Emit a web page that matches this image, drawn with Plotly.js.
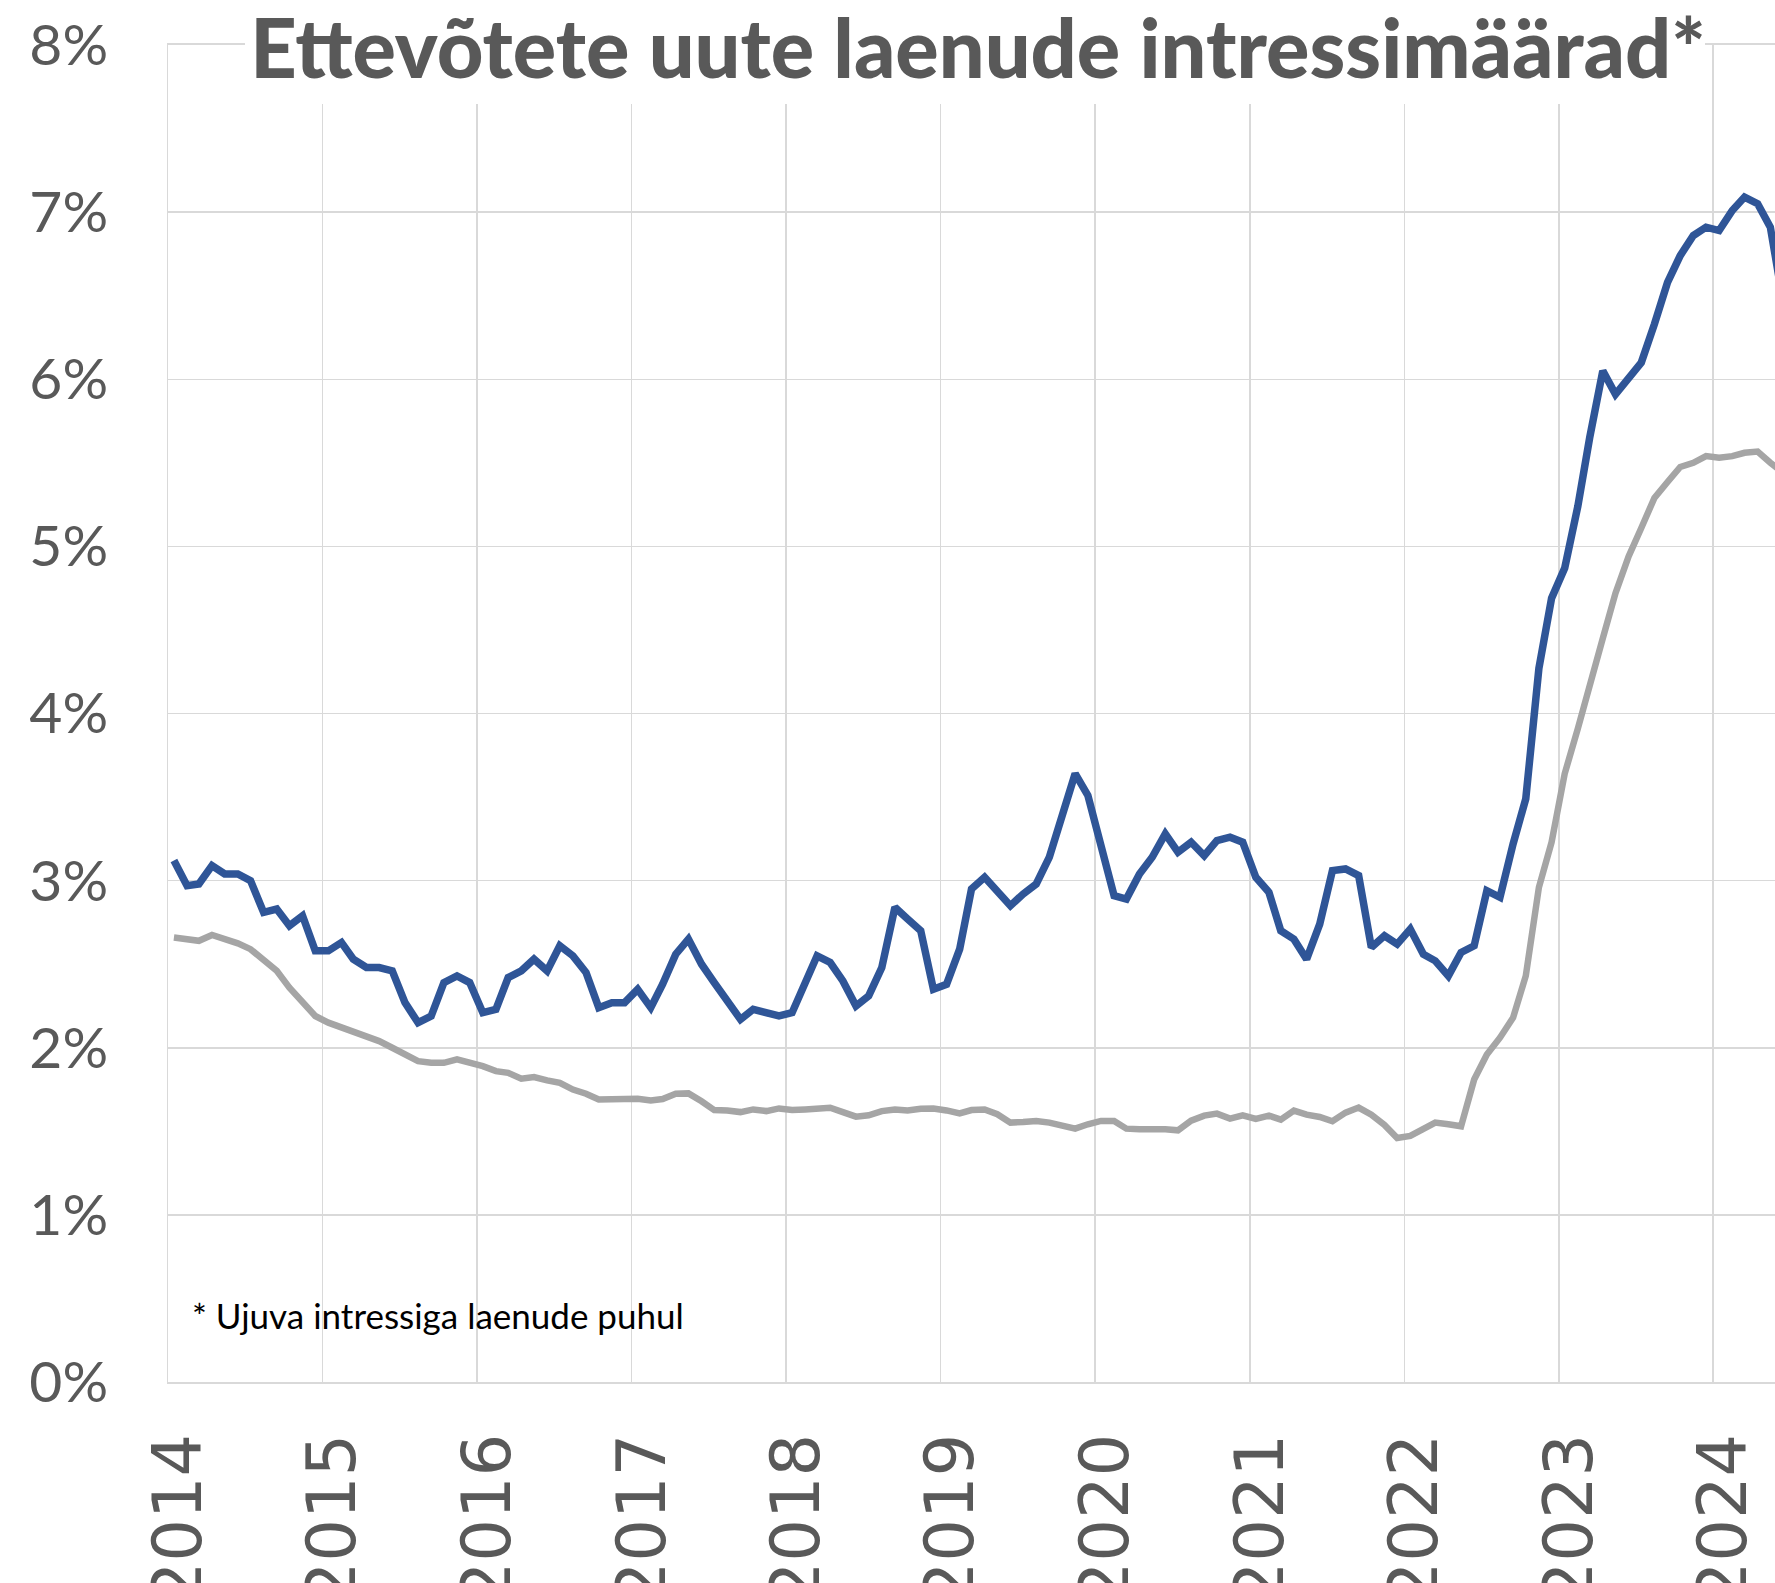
<!DOCTYPE html>
<html>
<head>
<meta charset="utf-8">
<script src="https://cdn.plot.ly/plotly-3.0.1.min.js"></script>
<style>
  html, body { margin: 0; padding: 0; background: #ffffff; }
  #chart { width: 1775px; height: 1583px; }
</style>
</head>
<body>
<div id="chart"></div>
<script>
// monthly values, Jan 2014 - Jun 2024 (%)
var eesti = [
  3.12, 2.97, 2.98, 3.09, 3.04, 3.04, 3.00, 2.81, 2.83, 2.73, 2.79, 2.58,
  2.58, 2.63, 2.53, 2.48, 2.48, 2.46, 2.27, 2.15, 2.19, 2.39, 2.43, 2.39,
  2.21, 2.23, 2.42, 2.46, 2.53, 2.46, 2.61, 2.55, 2.45, 2.24, 2.27, 2.27,
  2.35, 2.24, 2.38, 2.56, 2.65, 2.50, 2.39, 2.28, 2.17, 2.23, 2.21, 2.19,
  2.21, 2.38, 2.55, 2.51, 2.40, 2.25, 2.31, 2.48, 2.84, 2.77, 2.70, 2.35,
  2.38, 2.59, 2.95, 3.02, 2.93, 2.85, 2.92, 2.98, 3.14, 3.40, 3.64, 3.51,
  3.21, 2.91, 2.89, 3.04, 3.14, 3.28, 3.17, 3.23, 3.15, 3.24, 3.26, 3.23,
  3.02, 2.93, 2.70, 2.65, 2.53, 2.74, 3.06, 3.07, 3.03, 2.60, 2.67, 2.62,
  2.71, 2.56, 2.52, 2.43, 2.57, 2.61, 2.94, 2.90, 3.22, 3.49, 4.27, 4.69,
  4.87, 5.24, 5.65, 6.05, 5.91, 6.00, 6.10, 6.33, 6.58, 6.74, 6.86, 6.91,
  6.89, 7.01, 7.09, 7.05, 6.91, 6.45
];
var euroala = [
  2.66, 2.645, 2.64, 2.675, 2.655, 2.625, 2.59, 2.53, 2.46, 2.36, 2.28, 2.19,
  2.15, 2.12, 2.09, 2.07, 2.04, 2.00, 1.96, 1.92, 1.91, 1.91, 1.93, 1.915,
  1.89, 1.86, 1.85, 1.815, 1.825, 1.805, 1.79, 1.75, 1.725, 1.69, 1.69, 1.695,
  1.695, 1.685, 1.693, 1.725, 1.727, 1.68, 1.627, 1.625, 1.615, 1.631, 1.621, 1.637,
  1.627, 1.631, 1.635, 1.641, 1.615, 1.588, 1.596, 1.621, 1.631, 1.625, 1.635, 1.637,
  1.625, 1.607, 1.627, 1.631, 1.602, 1.552, 1.556, 1.562, 1.552, 1.532, 1.516, 1.542,
  1.562, 1.562, 1.516, 1.512, 1.514, 1.512, 1.506, 1.564, 1.594, 1.606, 1.576, 1.596,
  1.574, 1.594, 1.570, 1.624, 1.600, 1.586, 1.560, 1.612, 1.642, 1.600, 1.538, 1.460,
  1.472, 1.510, 1.552, 1.542, 1.530, 1.810, 1.960, 2.060, 2.180, 2.430, 2.960, 3.230,
  3.640, 3.910, 4.180, 4.450, 4.720, 4.940, 5.110, 5.290, 5.385, 5.475, 5.500, 5.540,
  5.530, 5.540, 5.560, 5.567, 5.500, 5.440
];
var yearTicks = ['2014', '2015', '2016', '2017', '2018', '2019', '2020', '2021', '2022', '2023', '2024'];
var yTicks = [0, 1, 2, 3, 4, 5, 6, 7, 8];

// mid-month dates for the x axis
var months = [];
for (var i = 0; i < eesti.length; i++) {
  var y = 2014 + Math.floor(i / 12);
  var m = (i % 12) + 1;
  months.push(y + '-' + (m < 10 ? '0' + m : m) + '-15');
}

var grey = '#595959';
var gridCol = '#d9d9d9';

var data = [
  {
    x: months,
    y: euroala,
    type: 'scatter',
    mode: 'lines',
    name: 'Euroala',
    line: {color: '#a5a5a5', width: 6.5}
  },
  {
    x: months,
    y: eesti,
    type: 'scatter',
    mode: 'lines',
    name: 'Eesti',
    line: {color: '#2f5597', width: 7.5}
  }
];

var mL = 168, mT = 45, mB = 201, W = 1775, H = 1583;
var plotW = W - mL, plotH = H - mT - mB;
function px(x) { return (x - mL) / plotW; }
function py(y) { return (H - mB - y) / plotH; }

var layout = {
  width: W,
  height: H,
  paper_bgcolor: '#ffffff',
  plot_bgcolor: '#ffffff',
  showlegend: false,
  margin: {l: mL, r: 0, t: mT, b: mB, pad: 0},
  title: {
    text: 'Ettevõtete uute laenude intressimäärad*',
    font: {family: 'Lato', size: 81, color: grey, weight: 900},
    xref: 'container', x: 978 / W, xanchor: 'center',
    yref: 'container', y: 1 - 50 / H, yanchor: 'middle'
  },
  xaxis: {
    type: 'date',
    range: ['2014-01-01', '2024-05-26'],
    tickvals: yearTicks.map(function (t) { return t + '-01-01'; }),
    ticktext: yearTicks,
    tickangle: -90,
    tickfont: {family: 'DejaVu Sans', size: 67, color: grey},
    ticks: '',
    ticklabelstandoff: 23,
    ticklabelshift: 11,
    showgrid: true,
    gridcolor: gridCol,
    gridwidth: 1.5,
    showline: true,
    linecolor: gridCol,
    linewidth: 2,
    mirror: true,
    zeroline: false,
    fixedrange: true
  },
  yaxis: {
    range: [0, 8],
    tickvals: yTicks,
    ticktext: yTicks.map(function (v) { return v + '%'; }),
    tickfont: {family: 'Lato', size: 57, color: grey},
    ticks: '',
    ticklabelstandoff: 47,
    showgrid: true,
    gridcolor: gridCol,
    gridwidth: 1.5,
    showline: true,
    linecolor: gridCol,
    linewidth: 1.5,
    zeroline: false,
    fixedrange: true
  },
  shapes: [
    {
      type: 'rect', xref: 'paper', yref: 'paper', layer: 'above',
      x0: px(245), x1: px(1705), y0: py(104), y1: py(-5),
      fillcolor: '#ffffff', line: {width: 0}
    }
  ],
  annotations: [
    {
      xref: 'paper', yref: 'paper',
      x: px(190), y: py(1315),
      xanchor: 'left', yanchor: 'middle',
      text: '* Ujuva intressiga laenude puhul',
      showarrow: false,
      font: {family: 'Lato', size: 35, color: '#000000'}
    }
  ]
};

Plotly.newPlot('chart', data, layout, {displayModeBar: false, staticPlot: true});
</script>
</body>
</html>
